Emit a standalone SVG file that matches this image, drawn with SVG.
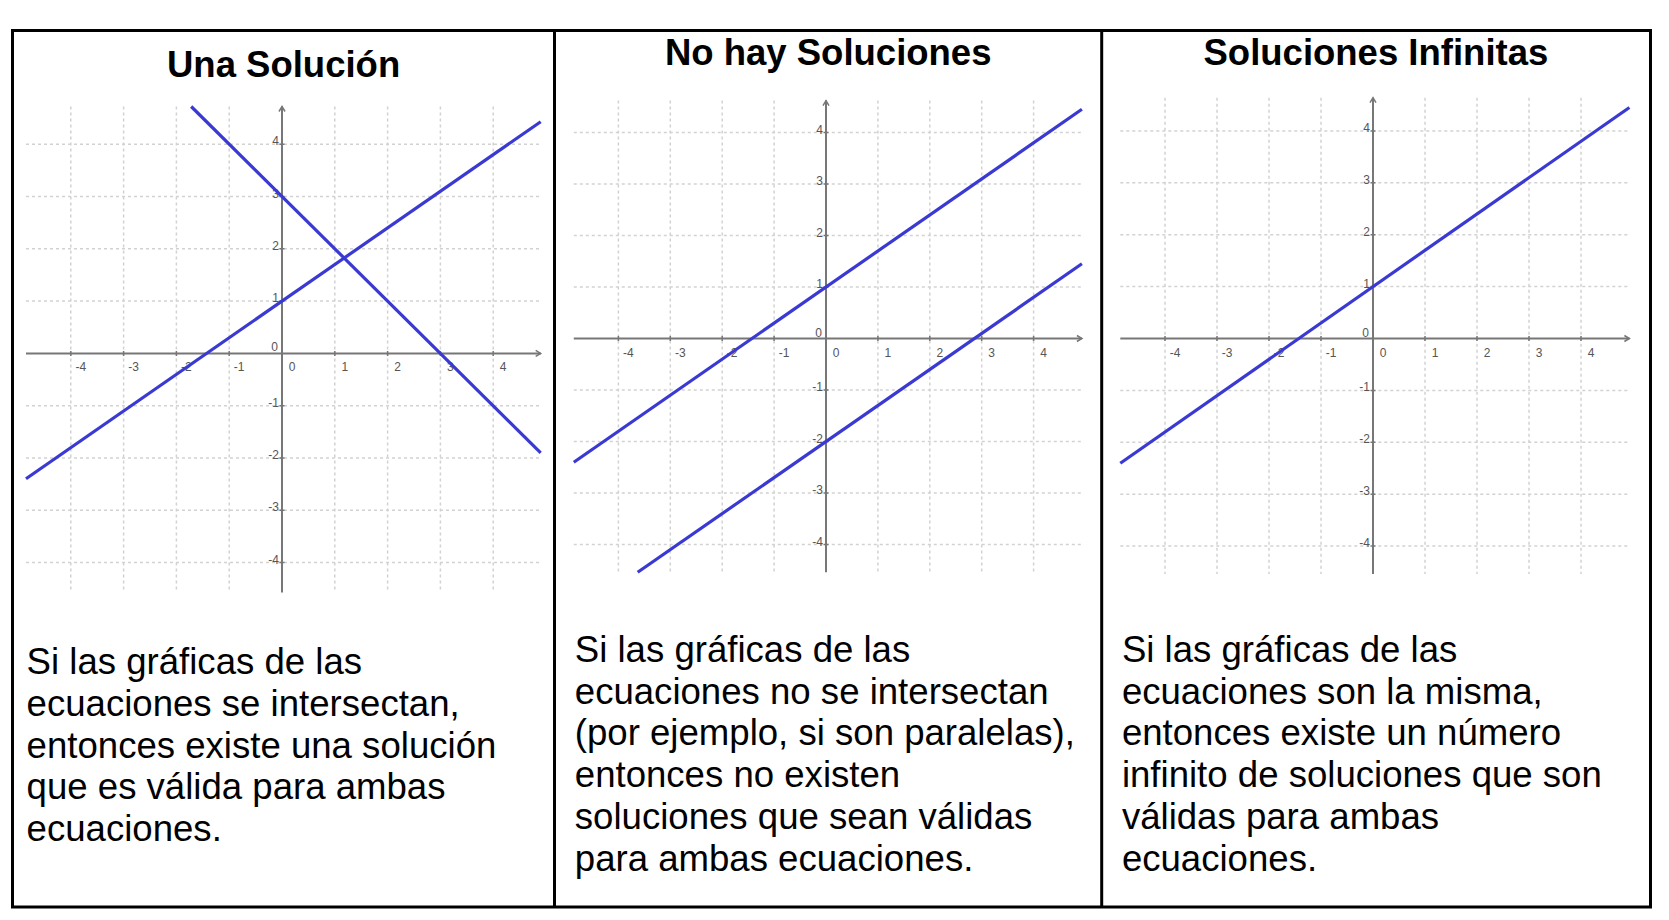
<svg xmlns="http://www.w3.org/2000/svg" width="1669" height="920" viewBox="0 0 1669 920">
<style>
.frame{fill:none;stroke:#000;stroke-width:3}
.grid{fill:none;stroke:#d2d2d2;stroke-width:1.5;stroke-dasharray:3 3}
.axis{fill:none;stroke:#777;stroke-width:2}
.tick{fill:none;stroke:#777;stroke-width:1.5}
.line{fill:none;stroke:#3a3ad2;stroke-width:3.2;stroke-linecap:butt}
.lbl{font-family:"Liberation Sans",Arial,sans-serif;font-size:12px;fill:#555}
.lx{text-anchor:middle}
.ly{text-anchor:end}
.title{font-family:"Liberation Sans",Arial,sans-serif;font-size:36.5px;font-weight:bold;fill:#000;text-anchor:middle}
.body{font-family:"Liberation Sans",Arial,sans-serif;font-size:36.6px;fill:#000}
</style>
<rect width="1669" height="920" fill="#fff"/>
<g id="table">
<rect class="frame" x="12.5" y="30.5" width="1638" height="876.5"/>
<line class="frame" x1="554.5" y1="30.5" x2="554.5" y2="907"/>
<line class="frame" x1="1101.7" y1="30.5" x2="1101.7" y2="907"/>
</g>

<g id="panel-una-solucion">
<text class="title" x="283.6" y="77">Una Solución</text>
<g id="graph-1">
<path class="grid" d="M70.8 106.5V592.4M123.6 106.5V592.4M176.4 106.5V592.4M229.2 106.5V592.4M334.8 106.5V592.4M387.6 106.5V592.4M440.4 106.5V592.4M493.2 106.5V592.4"/>
<path class="grid" d="M26 144.2H540.7M26 196.5H540.7M26 248.8H540.7M26 301.1H540.7M26 405.7H540.7M26 458H540.7M26 510.3H540.7M26 562.6H540.7"/>
<path class="axis" d="M26 353.4H540.7M282 592.4V106.5"/>
<path class="tick" d="M535.7 350.4L540.7 353.4L535.7 356.4M279 111.5L282 106.5L285 111.5"/>
<path class="tick" d="M70.8 351V356M123.6 351V356M176.4 351V356M229.2 351V356M334.8 351V356M387.6 351V356M440.4 351V356M493.2 351V356M279.5 144.2H284.5M279.5 196.5H284.5M279.5 248.8H284.5M279.5 301.1H284.5M279.5 405.7H284.5M279.5 458H284.5M279.5 510.3H284.5M279.5 562.6H284.5"/>
<g class="lbl lx">
<text x="80.8" y="371.4">-4</text><text x="133.6" y="371.4">-3</text><text x="186.4" y="371.4">-2</text><text x="239.2" y="371.4">-1</text><text x="292" y="371.4">0</text><text x="344.8" y="371.4">1</text><text x="397.6" y="371.4">2</text><text x="450.4" y="371.4">3</text><text x="503.2" y="371.4">4</text>
</g>
<g class="lbl ly">
<text x="279" y="145.2">4</text><text x="279" y="197.5">3</text><text x="279" y="249.8">2</text><text x="279" y="302.1">1</text><text x="278" y="351.4">0</text><text x="279" y="406.7">-1</text><text x="279" y="459">-2</text><text x="279" y="511.3">-3</text><text x="279" y="563.6">-4</text>
</g>
<line class="line" x1="26" y1="478.7" x2="540.7" y2="121.7"/>
<line class="line" x1="191.2" y1="106.5" x2="540.7" y2="452.8"/>
</g>
<text class="body"><tspan x="26.6" y="674">Si las gráficas de las</tspan><tspan x="26.6" y="715.8">ecuaciones se intersectan,</tspan><tspan x="26.6" y="757.6">entonces existe una solución</tspan><tspan x="26.6" y="799.4">que es válida para ambas</tspan><tspan x="26.6" y="841.2">ecuaciones.</tspan></text>
</g>

<g id="panel-no-hay-soluciones">
<text class="title" x="828.2" y="65">No hay Soluciones</text>
<g id="graph-2">
<path class="grid" d="M618.4 100.6V572.3M670.3 100.6V572.3M722.2 100.6V572.3M774.1 100.6V572.3M877.9 100.6V572.3M929.8 100.6V572.3M981.7 100.6V572.3M1033.6 100.6V572.3"/>
<path class="grid" d="M573.8 132.5H1081.9M573.8 184H1081.9M573.8 235.5H1081.9M573.8 287H1081.9M573.8 390H1081.9M573.8 441.5H1081.9M573.8 493H1081.9M573.8 544.5H1081.9"/>
<path class="axis" d="M573.8 338.5H1081.9M826 572.3V100.6"/>
<path class="tick" d="M1076.9 335.5L1081.9 338.5L1076.9 341.5M823 105.6L826 100.6L829 105.6"/>
<path class="tick" d="M618.4 336V341M670.3 336V341M722.2 336V341M774.1 336V341M877.9 336V341M929.8 336V341M981.7 336V341M1033.6 336V341M823.5 132.5H828.5M823.5 184H828.5M823.5 235.5H828.5M823.5 287H828.5M823.5 390H828.5M823.5 441.5H828.5M823.5 493H828.5M823.5 544.5H828.5"/>
<g class="lbl lx">
<text x="628.4" y="356.5">-4</text><text x="680.3" y="356.5">-3</text><text x="732.2" y="356.5">-2</text><text x="784.1" y="356.5">-1</text><text x="836" y="356.5">0</text><text x="887.9" y="356.5">1</text><text x="939.8" y="356.5">2</text><text x="991.7" y="356.5">3</text><text x="1043.6" y="356.5">4</text>
</g>
<g class="lbl ly">
<text x="823" y="133.5">4</text><text x="823" y="185">3</text><text x="823" y="236.5">2</text><text x="823" y="288">1</text><text x="822" y="336.5">0</text><text x="823" y="391">-1</text><text x="823" y="442.5">-2</text><text x="823" y="494">-3</text><text x="823" y="545.5">-4</text>
</g>
<line class="line" x1="573.8" y1="462.2" x2="1081.9" y2="109.3"/>
<line class="line" x1="637.7" y1="572.3" x2="1081.9" y2="263.8"/>
</g>
<text class="body"><tspan x="574.8" y="661.7">Si las gráficas de las</tspan><tspan x="574.8" y="703.5">ecuaciones no se intersectan</tspan><tspan x="574.8" y="745.3">(por ejemplo, si son paralelas),</tspan><tspan x="574.8" y="787.1">entonces no existen</tspan><tspan x="574.8" y="828.9">soluciones que sean válidas</tspan><tspan x="574.8" y="870.7">para ambas ecuaciones.</tspan></text>
</g>

<g id="panel-soluciones-infinitas">
<text class="title" x="1375.9" y="65">Soluciones Infinitas</text>
<g id="graph-3">
<path class="grid" d="M1165 97.7V574.1M1217 97.7V574.1M1269 97.7V574.1M1321 97.7V574.1M1425 97.7V574.1M1477 97.7V574.1M1529 97.7V574.1M1581 97.7V574.1"/>
<path class="grid" d="M1120.3 130.9H1629.4M1120.3 182.8H1629.4M1120.3 234.7H1629.4M1120.3 286.6H1629.4M1120.3 390.4H1629.4M1120.3 442.3H1629.4M1120.3 494.2H1629.4M1120.3 546.1H1629.4"/>
<path class="axis" d="M1120.3 338.5H1629.4M1373 574.1V97.7"/>
<path class="tick" d="M1624.4 335.5L1629.4 338.5L1624.4 341.5M1370 102.7L1373 97.7L1376 102.7"/>
<path class="tick" d="M1165 336V341M1217 336V341M1269 336V341M1321 336V341M1425 336V341M1477 336V341M1529 336V341M1581 336V341M1370.5 130.9H1375.5M1370.5 182.8H1375.5M1370.5 234.7H1375.5M1370.5 286.6H1375.5M1370.5 390.4H1375.5M1370.5 442.3H1375.5M1370.5 494.2H1375.5M1370.5 546.1H1375.5"/>
<g class="lbl lx">
<text x="1175" y="356.5">-4</text><text x="1227" y="356.5">-3</text><text x="1279" y="356.5">-2</text><text x="1331" y="356.5">-1</text><text x="1383" y="356.5">0</text><text x="1435" y="356.5">1</text><text x="1487" y="356.5">2</text><text x="1539" y="356.5">3</text><text x="1591" y="356.5">4</text>
</g>
<g class="lbl ly">
<text x="1370" y="131.9">4</text><text x="1370" y="183.8">3</text><text x="1370" y="235.7">2</text><text x="1370" y="287.6">1</text><text x="1369" y="336.5">0</text><text x="1370" y="391.4">-1</text><text x="1370" y="443.3">-2</text><text x="1370" y="495.2">-3</text><text x="1370" y="547.1">-4</text>
</g>
<line class="line" x1="1120.3" y1="463.2" x2="1629.4" y2="107.5"/>
</g>
<text class="body"><tspan x="1121.9" y="661.7">Si las gráficas de las</tspan><tspan x="1121.9" y="703.5">ecuaciones son la misma,</tspan><tspan x="1121.9" y="745.3">entonces existe un número</tspan><tspan x="1121.9" y="787.1">infinito de soluciones que son</tspan><tspan x="1121.9" y="828.9">válidas para ambas</tspan><tspan x="1121.9" y="870.7">ecuaciones.</tspan></text>
</g>
</svg>
